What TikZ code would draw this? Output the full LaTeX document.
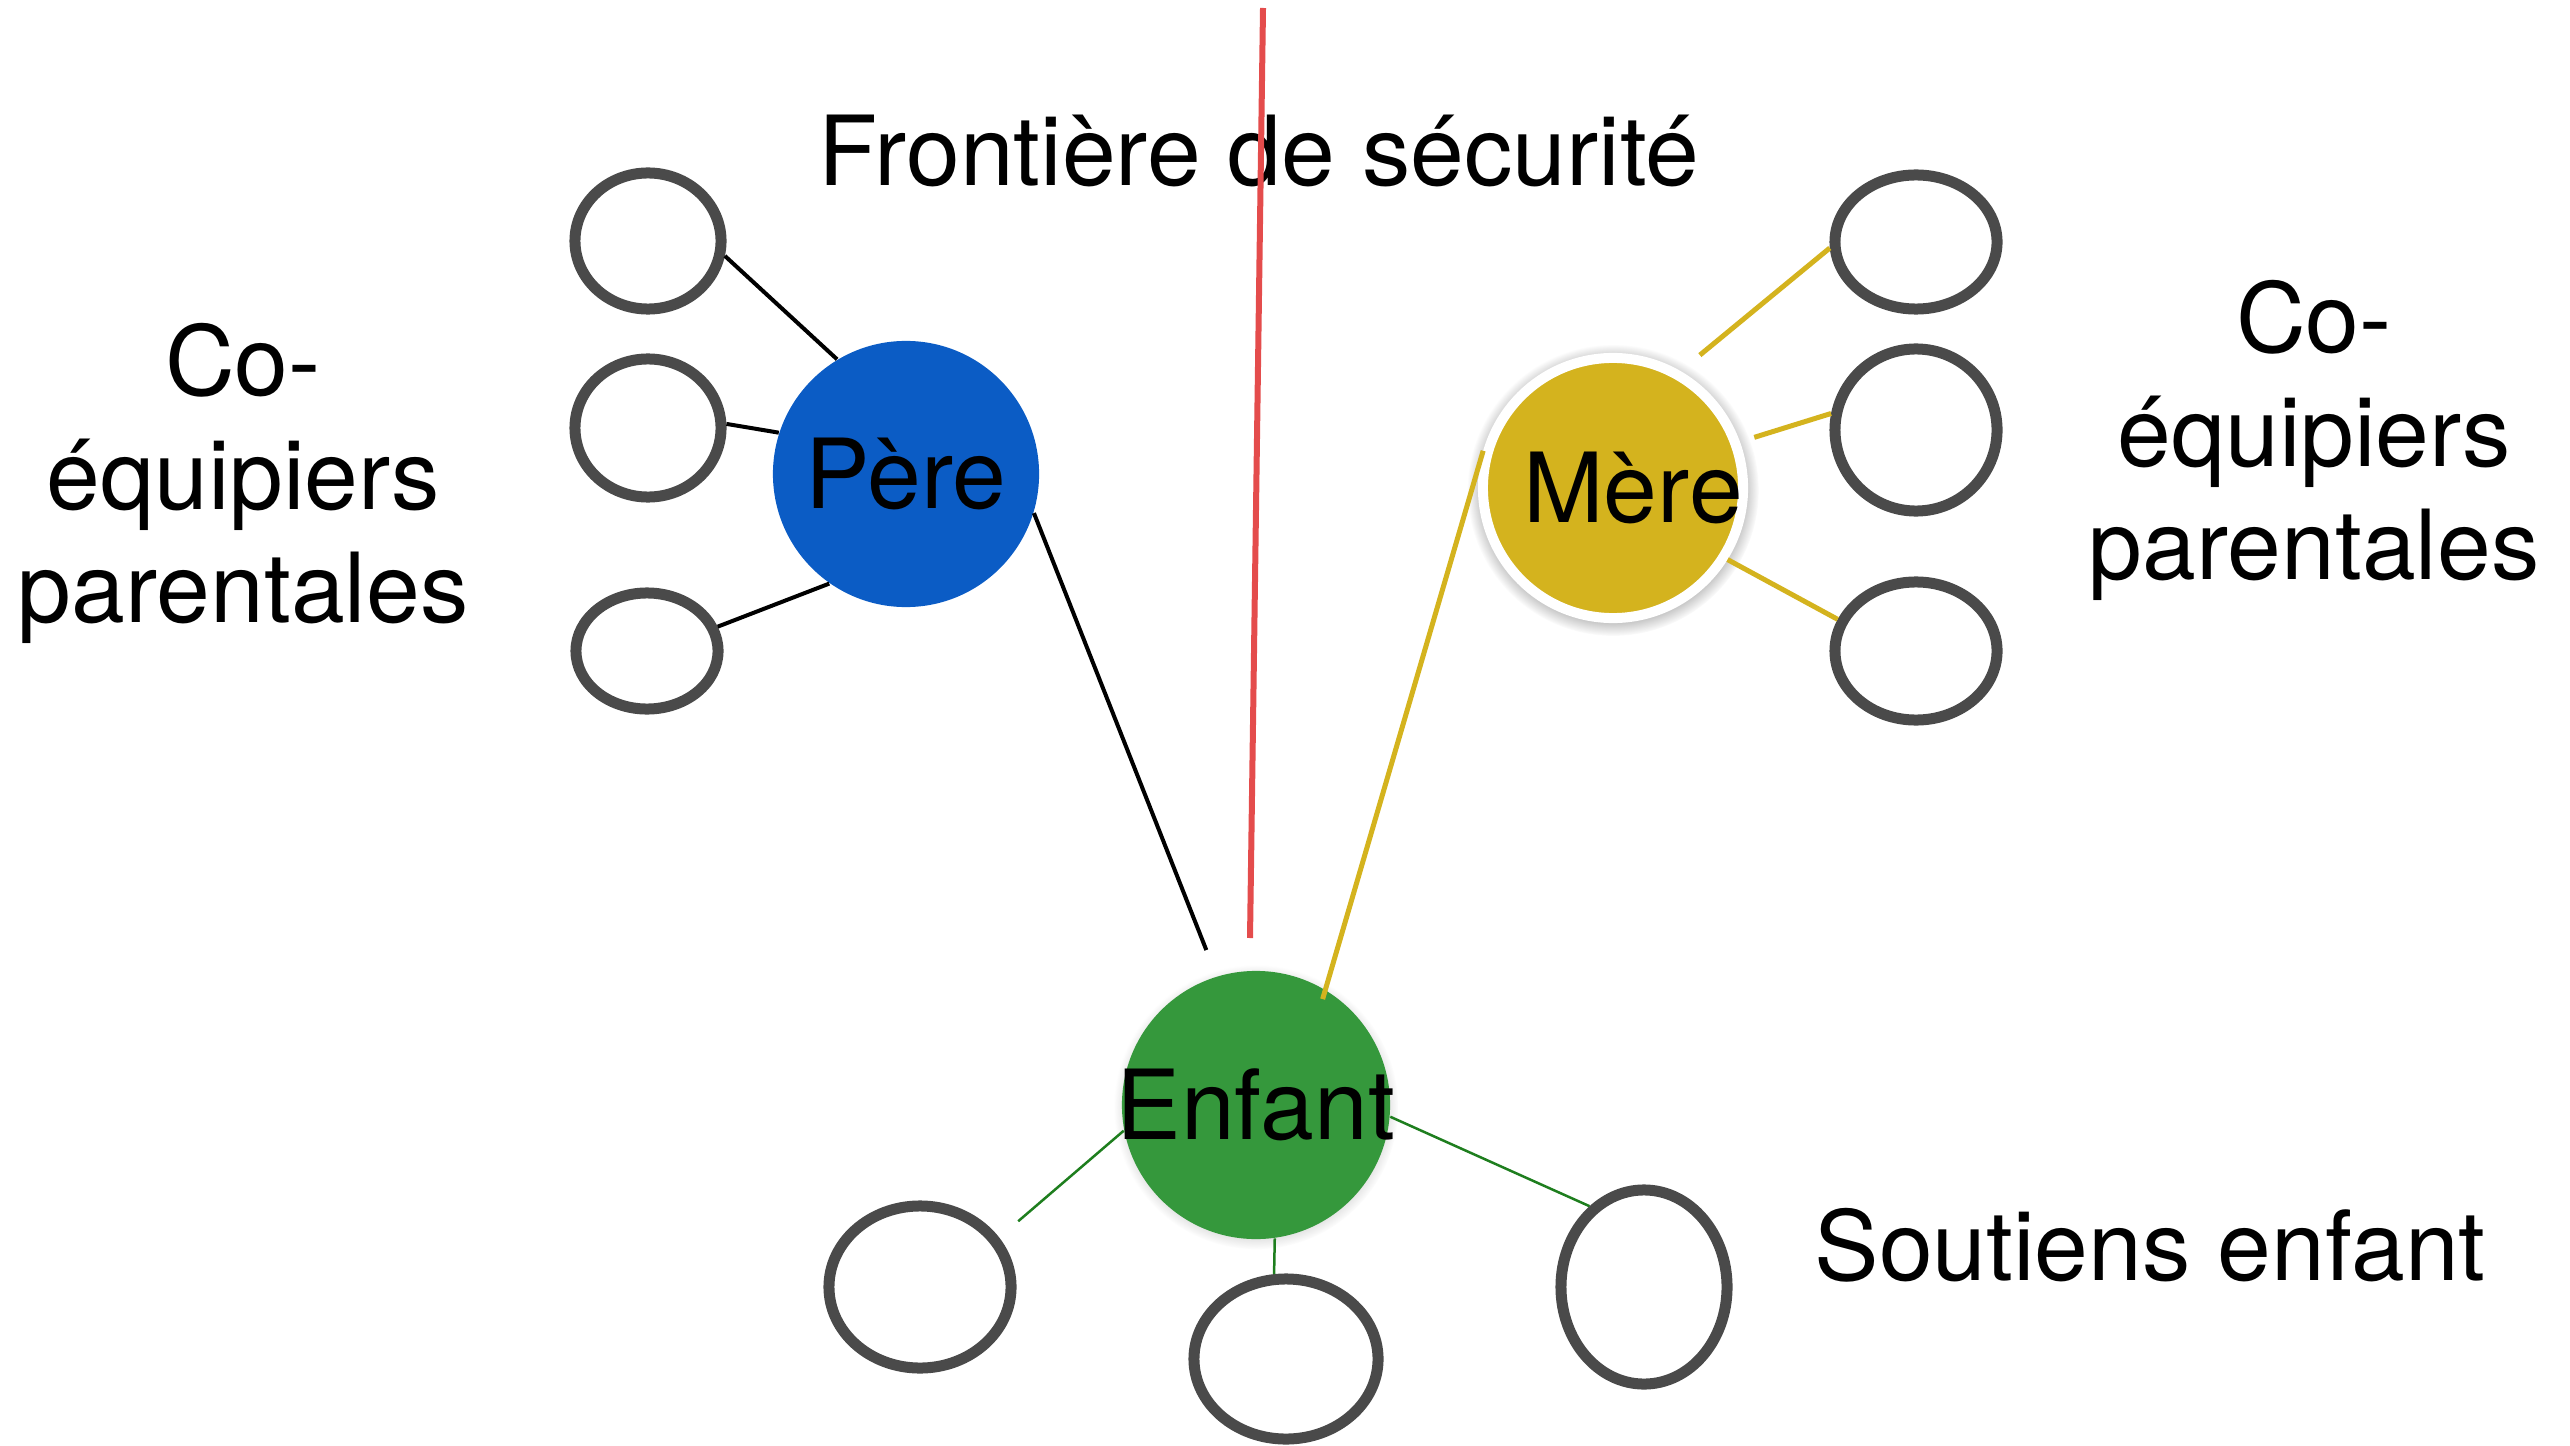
\documentclass[tikz,border=0pt]{standalone}
\usepackage{fontspec}
\setmainfont{TeX Gyre Heros}
\usetikzlibrary{shapes.geometric,shadows}
\definecolor{bleupere}{HTML}{0B5CC5}
\definecolor{ormere}{HTML}{D4B31E}
\definecolor{vertenfant}{HTML}{35983C}
\definecolor{traitvert}{HTML}{1E7E1E}
\definecolor{rougefront}{HTML}{E44C4C}
\definecolor{grisanneau}{HTML}{4A4A4A}
\tikzset{anneau/.style 2 args={
  ellipse,
  draw=grisanneau,
  line width=0.11cm,
  minimum width=#1,
  minimum height=#2,
  inner sep=0pt,
  }
}
\tikzset{parent/.style={
  circle,
  inner sep=0pt,
  }
}
\tikzset{texte/.style={inner sep=0pt}}
\tikzset{trait noir/.style={draw=black, line width=0.04cm}}
\tikzset{trait or/.style={draw=ormere, line width=0.05cm}}
\tikzset{trait vert/.style={draw=traitvert, line width=0.025cm}}

\begin{document}
\begin{tikzpicture}[x=0.01cm, y=-0.01cm, font=\fontsize{27.5}{32.2}\selectfont]
      \useasboundingbox (0,0) rectangle (2570,1446);

        \node [texte, anchor=base] (titre) at (1259,186) {Frontière de sécurité};
        \node [texte, anchor=north, align=center] (coparentsg) at (243,323) {Co-\\équipiers\\parentales};
        \node [texte, anchor=north, align=center] (coparentsd) at (2314,280) {Co-\\équipiers\\parentales};
        \node [texte, anchor=base] (soutiens) at (2150,1280) {Soutiens enfant};

        \coordinate (haut) at (1263,8);
        \coordinate (bas) at (1250,938);
        \draw [rougefront, line width=0.06cm] (haut) -- (bas);

        \node [parent, fill=bleupere, minimum size=2.66cm, label={center:Père}] (pere) at (906,474) {};
        \node [parent, fill=ormere, draw=white, line width=0.1cm, minimum size=2.6cm,
               circular drop shadow={shadow xshift=0cm, shadow yshift=-0.02cm, shadow scale=1.12, opacity=0.7},
               label={[xshift=0.2cm]center:Mère}] (mere) at (1613,488) {};
        \node [parent, fill=vertenfant, minimum size=2.68cm,
               circular drop shadow={shadow xshift=0cm, shadow yshift=-0.02cm, shadow scale=1.06, opacity=0.4},
               label={center:Enfant}] (enfant) at (1256,1105) {};

        \node [anneau={1.46cm}{1.36cm}] (p1) at (648,241) {};
        \node [anneau={1.46cm}{1.38cm}] (p2) at (648,428) {};
        \node [anneau={1.42cm}{1.16cm}] (p3) at (647,651) {};

        \node [anneau={1.62cm}{1.34cm}] (m1) at (1916,242) {};
        \node [anneau={1.62cm}{1.62cm}] (m2) at (1916,430) {};
        \node [anneau={1.62cm}{1.38cm}] (m3) at (1916,651) {};

        \node [anneau={1.82cm}{1.62cm}] (e1) at (920,1287) {};
        \node [anneau={1.84cm}{1.60cm}] (e2) at (1286,1359) {};
        \node [anneau={1.66cm}{1.94cm}] (e3) at (1644,1287) {};

        \draw [trait noir] (pere.121) -- (p1.-11);
        \draw [trait noir] (pere.162) -- (p2.3);
        \draw [trait noir] (pere.235) -- (p3.19);
        \draw [trait noir, shorten >=0.28cm] (pere.-17) -- (enfant.107);

        \draw [trait or, shorten <=0.25cm] (mere.60) -- (m1.184);
        \draw [trait or, shorten <=0.15cm] (mere.20) -- (m2.169);
        \draw [trait or] (mere.-32) -- (m3.158);
        \draw [trait or, shorten >=-0.1cm] (mere.164) -- (enfant.59);

        \draw [trait vert, shorten >=0.25cm] (enfant.191) -- (e1.32);
        \draw [trait vert] (enfant.-82) -- (e2.98);
        \draw [trait vert] (enfant.-5) -- (e3.124);
\end{tikzpicture}
\end{document}
